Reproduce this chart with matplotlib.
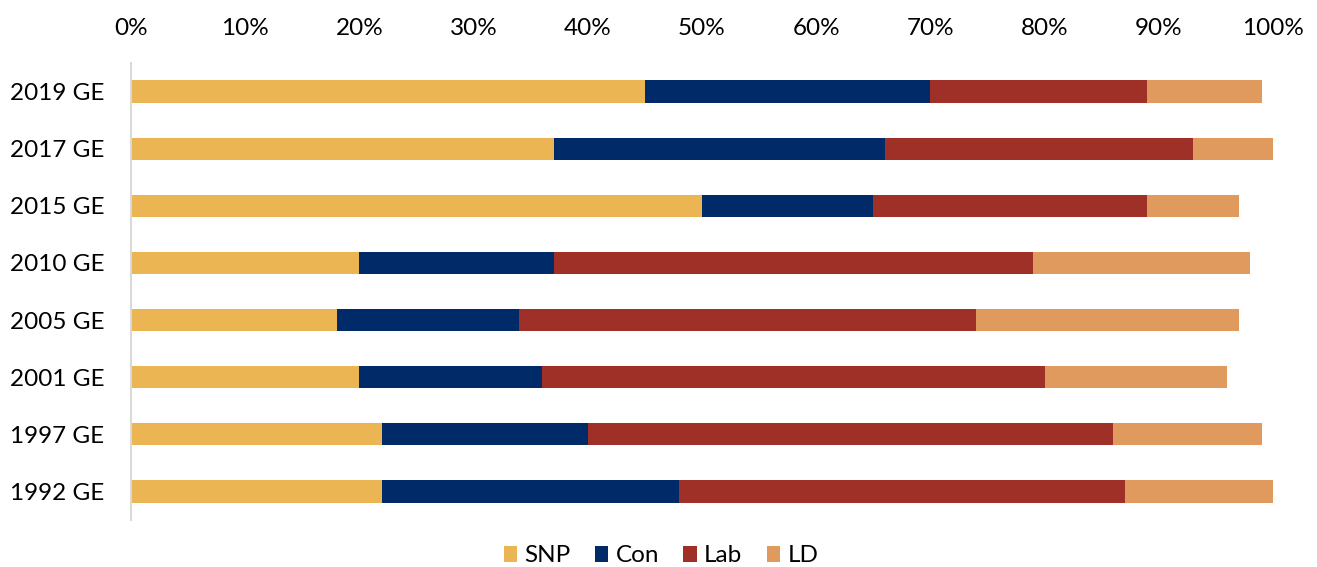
import matplotlib
matplotlib.use("Agg")
import matplotlib.pyplot as plt
import numpy as np
from matplotlib.ticker import PercentFormatter

plt.rcParams['font.family'] = ['Lato', 'DejaVu Sans']

elections = ["2019 GE", "2017 GE", "2015 GE", "2010 GE", "2005 GE", "2001 GE", "1997 GE", "1992 GE"]
snp = [45, 37, 50, 20, 18, 20, 22, 22]
con = [25, 29, 15, 17, 16, 16, 18, 26]
lab = [19, 27, 24, 42, 40, 44, 46, 39]
ld = [10, 7, 8, 19, 23, 16, 13, 13]

series = [("SNP", snp, "#EBB553"), ("Con", con, "#002B68"),
          ("Lab", lab, "#9E3027"), ("LD", ld, "#E09A5E")]

fig = plt.figure(figsize=(13.17, 5.67), dpi=100)
ax = fig.add_axes([131/1317, 47/567, (1273-131)/1317, (504-47)/567])

y = np.arange(len(elections))
left = np.zeros(len(elections))
for name, vals, col in series:
    ax.barh(y, vals, left=left, height=0.39, color=col, label=name)
    left += np.array(vals)

fs = 17.5
ax.set_xlim(0, 100)
ax.set_ylim(len(elections) - 0.5, -0.5)
ax.set_yticks(y)
ax.set_yticklabels(elections)
ax.set_xticks(np.arange(0, 101, 10))
ax.xaxis.set_major_formatter(PercentFormatter(decimals=0))
ax.xaxis.tick_top()
ax.tick_params(axis='x', length=0, pad=17, labelsize=fs)
ax.tick_params(axis='y', length=0, pad=19, labelsize=fs)
for s in ['top', 'right', 'bottom']:
    ax.spines[s].set_visible(False)
ax.spines['left'].set_color('#D9D9D9')
ax.spines['left'].set_linewidth(1.5)

fig.legend(loc='center', bbox_to_anchor=(661/1317, 1 - 556/567), ncol=4, frameon=False,
           fontsize=fs, handlelength=0.55, handleheight=0.6, handletextpad=0.3,
           columnspacing=1.0)

fig.savefig("out.png", dpi=100)
